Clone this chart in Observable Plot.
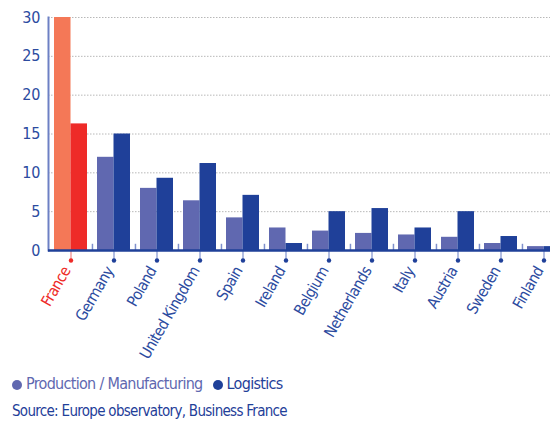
<!DOCTYPE html>
<html>
<head>
<meta charset="utf-8">
<script src="https://cdn.jsdelivr.net/npm/d3@7"></script>
<script src="https://cdn.jsdelivr.net/npm/@observablehq/plot@0.6"></script>
<style>
  html, body { margin: 0; padding: 0; background: #fff; width: 550px; height: 422px; overflow: hidden; }
  body { position: relative; font-family: "DejaVu Sans Condensed", "Roboto", sans-serif; }
  #chart { position: absolute; left: 0; top: 0; width: 550px; overflow: hidden; }
  #chart svg { display: block; max-width: none !important; }
  #chart g[aria-label="y-axis tick label"] text { font-size: 16px; fill: #2c4b9f; }
  #chart g[aria-label="x-axis tick"] path { stroke: #9aa8d8; stroke-width: 1.5; }
  #chart g[aria-label="x-axis tick"] path:first-child { stroke: #f3a0a0; }
  #chart g[aria-label="text"] text { letter-spacing: -0.6px; }
  #legend { position: absolute; left: 12px; top: 374px; font-size: 16px; letter-spacing: -0.7px; white-space: nowrap; }
  #legend span.dot { display: inline-block; width: 10px; height: 10px; border-radius: 50%; margin-right: 4px; vertical-align: -1px; }
  #source { position: absolute; left: 12px; top: 402px; font-size: 15px; letter-spacing: -0.7px; color: #1f4099; white-space: nowrap; }
</style>
</head>
<body>
<div id="chart"></div>
<div id="legend"></div>
<div id="source">Source: Europe observatory, Business France</div>
<script>
const countries = ["France", "Germany", "Poland", "United Kingdom", "Spain", "Ireland", "Belgium", "Netherlands", "Italy", "Austria", "Sweden", "Finland"];
const production = [30, 12.0, 8.0, 6.4, 4.2, 2.9, 2.5, 2.2, 2.0, 1.7, 0.9, 0.5];
const logistics = [16.3, 15.0, 9.3, 11.2, 7.1, 0.9, 5.0, 5.4, 2.9, 5.0, 1.8, 0.5];
const seriesNames = ["Production / Manufacturing", "Logistics"];
const yTicks = [0, 5, 10, 15, 20, 25, 30];

const seriesColors = ["#6068b0", "#1f4099"];
const highlightColors = ["#f47857", "#ee2b28"];
const highlight = "France";

const prodData = countries.map((c, i) => ({country: c, value: production[i]}));
const logData = countries.map((c, i) => ({country: c, value: logistics[i]}));

const W = 565, ML = 48;
const step = (W - ML) / countries.length;
const padInner = 0.234;
const half = step * (1 - padInner) / 2;

const chart = Plot.plot({
  width: W,
  height: 368,
  marginLeft: ML,
  marginRight: 0,
  marginTop: 17,
  marginBottom: 118,
  style: {background: "white", fontFamily: "'DejaVu Sans Condensed', Roboto, sans-serif", color: "#2c4b9f", maxWidth: "none"},
  x: {domain: countries, paddingInner: padInner, paddingOuter: padInner / 2, align: 0.5, tickSize: 9, tickFormat: () => "", label: null},
  y: {domain: [0, 30], ticks: yTicks, tickSize: 0, tickPadding: 8, label: null},
  color: {type: "identity"},
  marks: [
    Plot.ruleY(yTicks.slice(1), {stroke: "#b8b8b8", strokeWidth: 1, strokeDasharray: "1.5 1.5"}),
    Plot.barY(prodData, {x: "country", y: "value", insetRight: half, fill: d => d.country === highlight ? highlightColors[0] : seriesColors[0]}),
    Plot.barY(logData, {x: "country", y: "value", insetLeft: half, fill: d => d.country === highlight ? highlightColors[1] : seriesColors[1]}),
    Plot.ruleX(countries.slice(1), {x: d => d, y1: 0, y2: 0.8, dx: -step / 2, stroke: "#7f90cc", strokeWidth: 1.5}),
    Plot.frame({anchor: "left", stroke: "#6d80c4", strokeWidth: 2}),
    Plot.ruleY([0], {stroke: "#1f4099", strokeWidth: 2.5}),
    Plot.dot(countries, {x: d => d, frameAnchor: "bottom", dy: 10, r: 2.2, stroke: null, fill: d => d === highlight ? "#ee2b28" : "#1f4099"}),
    Plot.text(countries, {x: d => d, text: d => d, frameAnchor: "bottom", dx: 0, dy: 20, rotate: -60, textAnchor: "end", fontSize: 15.5, fill: d => d === highlight ? "#ee2b28" : "#2c4b9f"})
  ]
});
document.getElementById("chart").appendChild(chart);

const legend = document.getElementById("legend");
seriesNames.forEach((name, i) => {
  const item = document.createElement("span");
  item.style.marginRight = "10px";
  item.style.color = seriesColors[i];
  item.innerHTML = `<span class="dot" style="background:${seriesColors[i]}"></span>${name}`;
  legend.appendChild(item);
});
</script>
</body>
</html>
